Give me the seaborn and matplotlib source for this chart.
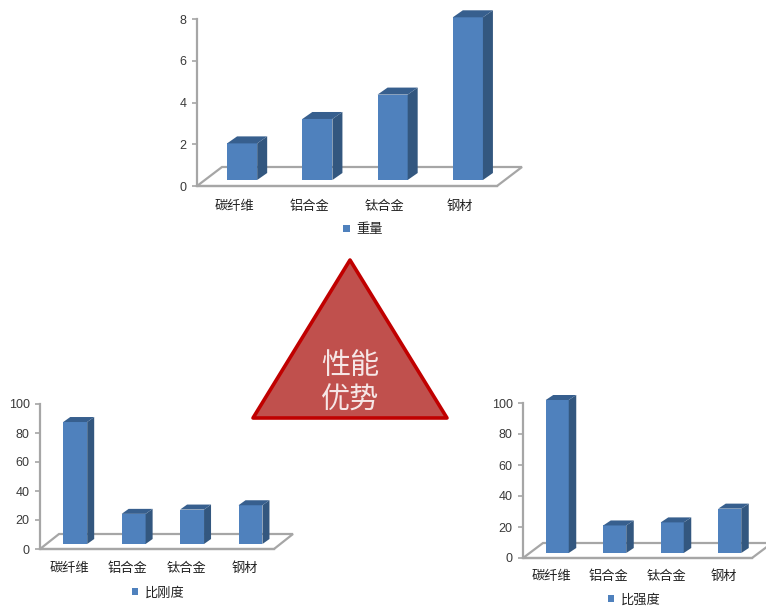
import matplotlib
matplotlib.use("Agg")
import matplotlib.pyplot as plt
from matplotlib.patches import Polygon
from matplotlib.transforms import IdentityTransform
import seaborn as sns

W, H = 766, 606

materials = ["碳纤维", "铝合金", "钛合金", "钢材"]
weight = [1.8, 3.0, 4.2, 8.0]
specific_stiffness = [85, 21, 24, 27]
specific_strength = [100, 18, 20, 29]
weight_ticks = [0, 2, 4, 6, 8]
percent_ticks = [0, 20, 40, 60, 80, 100]

FACE = "#4F81BD"
SIDE = "#33577F"
TOP = "#375F8E"
GRID = "#A6A6A6"
INK = "#3A3A3A"

sns.set_theme(style="white")
plt.rcParams["font.family"] = ["Liberation Sans", "Noto Sans CJK SC", "DejaVu Sans"]

fig = plt.figure(figsize=(W / 100, H / 100), dpi=100, facecolor="white")


def rect(left, top, right, bottom):
    """Axes rectangle from pixel edges measured from the top-left corner."""
    return [left / W, 1 - bottom / H, (right - left) / W, (bottom - top) / H]


def bar_chart(values, name, ticks, frame_box, bar_box, floor, depth, bar_width, legend_xy, label_pad):
    ymax = ticks[-1]

    # Frame: value axis, category labels and the receding floor.
    frame = fig.add_axes(rect(*frame_box), zorder=1)
    frame.set_xlim(-0.5, len(materials) - 0.5)
    frame.set_ylim(0, ymax)
    frame.set_facecolor("none")
    sns.despine(ax=frame)
    for side in ("left", "bottom"):
        frame.spines[side].set_color(GRID)
        frame.spines[side].set_linewidth(1.6)
    frame.set_yticks(ticks)
    frame.set_xticks(range(len(materials)))
    frame.set_xticklabels(materials, fontsize=9.5, color="#222222", va="baseline")
    frame.tick_params(axis="y", left=True, length=3.5, width=1.2, color=GRID,
                      labelsize=9, labelcolor=INK, pad=4)
    frame.tick_params(axis="x", bottom=False, length=0, pad=label_pad)

    (x0, y0), (x1, _) = frame.transData.transform([(-0.5, 0), (len(materials) - 0.5, 0)])
    frame.add_patch(Polygon(
        [(x0, y0), (x1, y0), (x1 + floor[0], y0 + floor[1]), (x0 + floor[0], y0 + floor[1])],
        closed=True, facecolor="white", edgecolor=GRID, linewidth=1.6,
        transform=IdentityTransform(), clip_on=False))

    # Bars: front faces from seaborn, extruded sides and tops added per bar.
    ax = fig.add_axes(rect(*bar_box), zorder=2)
    sns.barplot(x=materials, y=values, ax=ax, color=FACE, saturation=1,
                width=bar_width, label=name)
    ax.set_xlim(-0.5, len(materials) - 0.5)
    ax.set_ylim(0, ymax)
    ax.patch.set_alpha(0)
    ax.set_xlabel("")
    ax.set_ylabel("")
    ax.set_xticks([])
    ax.set_yticks([])
    sns.despine(ax=ax, left=True, bottom=True)

    dx, dy = depth
    for bar in list(ax.patches):
        bar.set_edgecolor("none")
        a = bar.get_x()
        b = a + bar.get_width()
        h = bar.get_height()
        (ax_px, base), (bx_px, top) = ax.transData.transform([(a, 0), (b, h)])
        ax.add_patch(Polygon(
            [(bx_px, base), (bx_px + dx, base + dy), (bx_px + dx, top + dy), (bx_px, top)],
            closed=True, facecolor=SIDE, edgecolor="none",
            transform=IdentityTransform(), clip_on=False))
        ax.add_patch(Polygon(
            [(ax_px, top), (bx_px, top), (bx_px + dx, top + dy), (ax_px + dx, top + dy)],
            closed=True, facecolor=TOP, edgecolor="none",
            transform=IdentityTransform(), clip_on=False))

    ax.legend(
        loc="center", bbox_to_anchor=(legend_xy[0] / W, 1 - legend_xy[1] / H),
        bbox_transform=fig.transFigure, frameon=False, fontsize=9.5,
        handlelength=0.5, handleheight=0.5, handletextpad=0.5, labelcolor="#222222")


bar_chart(weight, "重量", weight_ticks,
          frame_box=(197, 19, 497, 186), bar_box=(204.5, 17.3, 505.5, 180),
          floor=(25, 19), depth=(10, 7), bar_width=0.4, legend_xy=(363, 230), label_pad=17)
bar_chart(specific_stiffness, "比刚度", percent_ticks,
          frame_box=(40, 404, 274, 549), bar_box=(46, 400.5, 279.7, 544),
          floor=(19, 15), depth=(7, 5), bar_width=0.41, legend_xy=(158, 593), label_pad=16.5)
bar_chart(specific_strength, "比强度", percent_ticks,
          frame_box=(523, 403, 752, 558), bar_box=(528.5, 400, 758.5, 553),
          floor=(20, 15), depth=(7.5, 5), bar_width=0.4, legend_xy=(634, 600), label_pad=16)

# Central triangle with its caption.
fig.add_artist(Polygon(
    [(350 / W, 1 - 260 / H), (253 / W, 1 - 418 / H), (447 / W, 1 - 418 / H)],
    closed=True, facecolor="#C0504D", edgecolor="#C00000", linewidth=2.6,
    joinstyle="round", transform=fig.transFigure))
for line, y in (("性能", 366), ("优势", 401)):
    fig.text(350 / W, 1 - y / H, line, ha="center", va="center",
             fontsize=21, color="#F6E6E6", family=["Noto Sans CJK SC", "DejaVu Sans"])

fig.savefig("out.png", dpi=100, facecolor="white")
